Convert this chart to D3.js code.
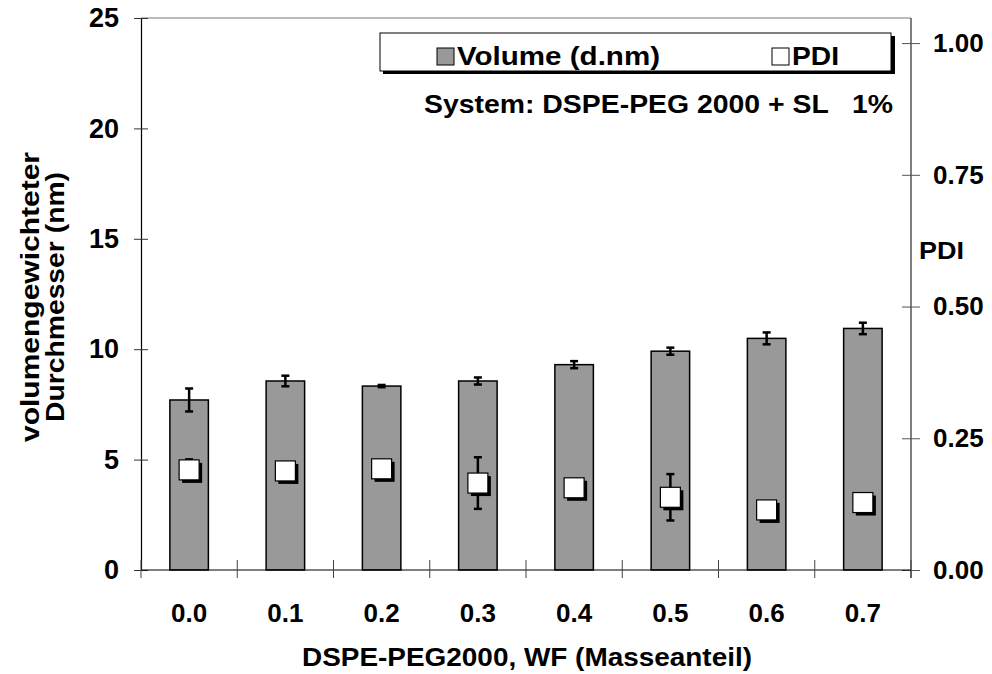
<!DOCTYPE html>
<html><head><meta charset="utf-8">
<script src="https://cdn.jsdelivr.net/npm/d3@7"></script>
<style>body{margin:0;background:#fff}svg{display:block}text{font-family:"Liberation Sans",Arial,sans-serif;font-weight:bold;fill:#000}</style>
</head><body><svg id="c" width="992" height="674"></svg>
<script>
const categories = ["0.0","0.1","0.2","0.3","0.4","0.5","0.6","0.7"];
const volume = [7.7, 8.56, 8.33, 8.56, 9.30, 9.91, 10.49, 10.94];
const volumeErr = [0.52, 0.24, 0.05, 0.16, 0.16, 0.16, 0.27, 0.26];
const pdi = [0.190, 0.188, 0.192, 0.165, 0.156, 0.138, 0.114, 0.128];
const pdiErr = [0.02, 0.0, 0.0, 0.049, 0.0, 0.044, 0.0, 0.0];
const leftTicks = [0,5,10,15,20,25];
const rightTicks = [0,0.25,0.5,0.75,1.0];

const svg = d3.select("#c");
const L=141, R=911, T=18, B=570;
const x = d3.scaleBand().domain(categories).range([L,R]).paddingInner(0.6).paddingOuter(0.3);
const y = d3.scaleLinear().domain([0,25]).range([B,T]);
const y2 = d3.scaleLinear().domain([0,1.0476]).range([B,T]);
const xb = d3.scaleLinear().domain([0,categories.length]).range([L,R]);

// frame top
svg.append("line").attr("x1",L).attr("x2",R).attr("y1",T).attr("y2",T).attr("stroke","#777").attr("stroke-width",1);

// bars
svg.append("g").selectAll("rect").data(categories).join("rect")
  .attr("x",d=>x(d)).attr("width",x.bandwidth())
  .attr("y",(d,i)=>y(volume[i])).attr("height",(d,i)=>B-y(volume[i]))
  .attr("fill","#999999").attr("stroke","#000").attr("stroke-width",1.5);

// volume error bars
const eg = svg.append("g").attr("stroke","#000").attr("stroke-width",2.5);
categories.forEach((c,i)=>{
  const cx = x(c)+x.bandwidth()/2;
  const y1=y(volume[i]+volumeErr[i]), y0=y(volume[i]-volumeErr[i]);
  eg.append("line").attr("x1",cx).attr("x2",cx).attr("y1",y1).attr("y2",y0);
  eg.append("line").attr("x1",cx-4).attr("x2",cx+4).attr("y1",y1).attr("y2",y1);
  eg.append("line").attr("x1",cx-4).attr("x2",cx+4).attr("y1",y0).attr("y2",y0);
});

// PDI error bars + markers
const pg = svg.append("g");
categories.forEach((c,i)=>{
  const cx = x(c)+x.bandwidth()/2;
  if(pdiErr[i]>0){
    const y1=y2(pdi[i]+pdiErr[i]), y0=y2(pdi[i]-pdiErr[i]);
    const g=pg.append("g").attr("stroke","#000").attr("stroke-width",2.5);
    g.append("line").attr("x1",cx).attr("x2",cx).attr("y1",y1).attr("y2",y0);
    g.append("line").attr("x1",cx-4).attr("x2",cx+4).attr("y1",y1).attr("y2",y1);
    g.append("line").attr("x1",cx-4).attr("x2",cx+4).attr("y1",y0).attr("y2",y0);
  }
  const cy=y2(pdi[i]);
  pg.append("rect").attr("x",cx-10+3).attr("y",cy-10+3).attr("width",20).attr("height",20).attr("fill","#000");
  pg.append("rect").attr("x",cx-10).attr("y",cy-10).attr("width",20).attr("height",20).attr("fill","#fff").attr("stroke","#000").attr("stroke-width",1.2);
});

// axes
const axL = svg.append("g").attr("transform",`translate(${L},0)`)
  .call(d3.axisLeft(y).tickValues(leftTicks).tickFormat(d3.format("d")).tickSizeInner(7).tickSizeOuter(0).tickPadding(15));
axL.select(".domain").attr("stroke","#000").attr("stroke-width",1.2);
axL.selectAll(".tick line").attr("x2",7).attr("x1",-7).attr("stroke","#333");
axL.selectAll("text").style("font-size","27px").attr("font-weight","bold").attr("fill","#000");

const axR = svg.append("g").attr("transform",`translate(${R},0)`)
  .call(d3.axisRight(y2).tickValues(rightTicks).tickFormat(d3.format(".2f")).tickSizeInner(9).tickSizeOuter(0).tickPadding(13));
axR.select(".domain").attr("stroke","#555").attr("stroke-width",1.5).attr("d",`M0,${T}V${B+8}`);
axR.selectAll(".tick line").attr("x1",-9).attr("x2",9).attr("stroke","#555");
axR.selectAll("text").style("font-size","26px").attr("font-weight","bold").attr("fill","#000");

// x axis
svg.append("line").attr("x1",L).attr("x2",R).attr("y1",B).attr("y2",B).attr("stroke","#000").attr("stroke-width",1.2);
const bounds = d3.range(0,categories.length+1);
svg.append("g").selectAll("line").data(bounds).join("line")
  .attr("x1",d=>xb(d)).attr("x2",d=>xb(d)).attr("y1",B-10).attr("y2",B+8).attr("stroke","#444").attr("stroke-width",1);
svg.append("g").selectAll("text").data(categories).join("text")
  .attr("x",d=>x(d)+x.bandwidth()/2).attr("y",622).attr("text-anchor","middle").style("font-size","26px").text(d=>d);

// titles
svg.append("text").attr("x",527).attr("y",666).attr("text-anchor","middle").style("font-size","26px")
  .attr("textLength",450).attr("lengthAdjust","spacingAndGlyphs").text("DSPE-PEG2000, WF (Masseanteil)");
const yt = svg.append("g").attr("transform","translate(0,297) rotate(-90)");
yt.append("text").attr("x",0).attr("y",39).attr("text-anchor","middle").style("font-size","25px")
  .attr("textLength",290).attr("lengthAdjust","spacingAndGlyphs").text("volumengewichteter");
yt.append("text").attr("x",0).attr("y",64).attr("text-anchor","middle").style("font-size","25px")
  .attr("textLength",250).attr("lengthAdjust","spacingAndGlyphs").text("Durchmesser (nm)");
svg.append("text").attr("x",919).attr("y",259).style("font-size","24px")
  .attr("textLength",45).attr("lengthAdjust","spacingAndGlyphs").text("PDI");

// legend
const lg = svg.append("g");
lg.append("rect").attr("x",383).attr("y",36).attr("width",512).attr("height",38).attr("fill","#000");
lg.append("rect").attr("x",380).attr("y",33).attr("width",511).attr("height",38).attr("fill","#fff").attr("stroke","#000").attr("stroke-width",1);
lg.append("rect").attr("x",437).attr("y",48).attr("width",17).attr("height",17).attr("fill","#999").attr("stroke","#000").attr("stroke-width",1);
lg.append("text").attr("x",457).attr("y",65).style("font-size","26px")
  .attr("textLength",203).attr("lengthAdjust","spacingAndGlyphs").text("Volume (d.nm)");
lg.append("rect").attr("x",772).attr("y",48).attr("width",17).attr("height",17).attr("fill","#fff").attr("stroke","#000").attr("stroke-width",1);
lg.append("text").attr("x",792).attr("y",65).style("font-size","26px")
  .attr("textLength",47).attr("lengthAdjust","spacingAndGlyphs").text("PDI");
svg.append("text").attr("x",424).attr("y",113).style("font-size","25px").style("white-space","pre")
  .attr("textLength",469).attr("lengthAdjust","spacingAndGlyphs").text("System: DSPE-PEG 2000 + SL   1%");
</script></body></html>
